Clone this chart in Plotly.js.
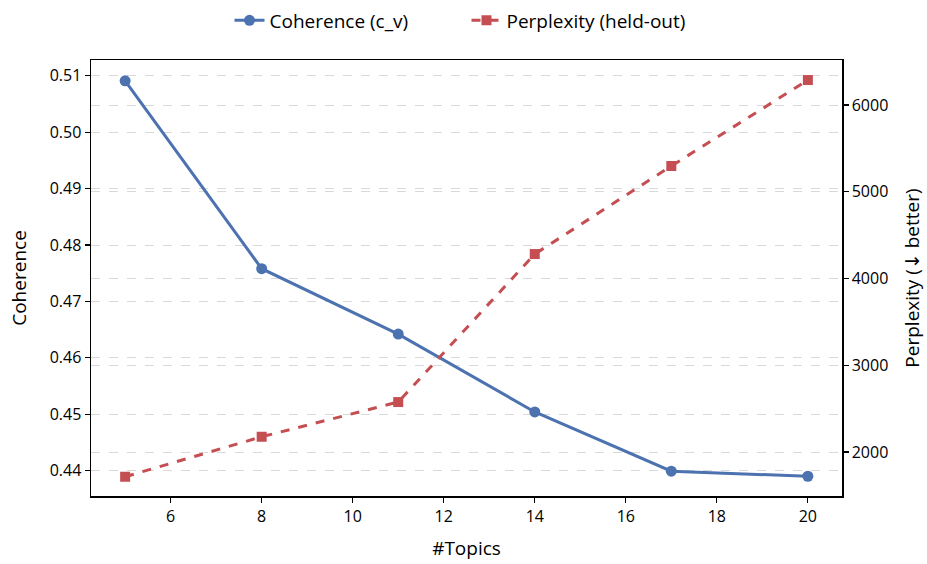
<!DOCTYPE html>
<html>
<head>
<meta charset="utf-8">
<script src="https://cdn.plot.ly/plotly-3.0.1.min.js"></script>
<style>html,body{margin:0;padding:0;background:#fff}#chart{width:927px;height:564px}</style>
</head>
<body>
<div id="chart"></div>
<script>
const topics = [5, 8, 11, 14, 17, 20];
const coherence = [0.5091, 0.4758, 0.4642, 0.4504, 0.4399, 0.4390];
const perplexity = [1715, 2176, 2576, 4282, 5297, 6288];

const FONT = "Open Sans, Noto Sans, DejaVu Sans, sans-serif";
const traces = [
  {x: topics, y: coherence, name: "Coherence (c_v)", type: "scatter", mode: "lines+markers",
   line: {color: "#4C72B0", width: 3}, marker: {symbol: "circle", size: 11, color: "#4C72B0"}, yaxis: "y"},
  {x: topics, y: perplexity, name: "Perplexity (held-out)", type: "scatter", mode: "lines+markers",
   line: {color: "#C44E52", width: 3, dash: "dash"}, marker: {symbol: "square", size: 10, color: "#C44E52"}, yaxis: "y2"}
];
const grid = {showgrid: true, gridcolor: "#d9d9d9", griddash: "dash", gridwidth: 1};
const layout = {
  width: 927, height: 564,
  margin: {l: 91, r: 85, t: 60, b: 68},
  paper_bgcolor: "#fff", plot_bgcolor: "#fff",
  font: {family: FONT, size: 16, color: "#000"},
  showlegend: true,
  legend: {orientation: "h", x: 0.5, xanchor: "center", y: 0.93, yanchor: "bottom", yref: "container",
           font: {size: 19}, entrywidth: 192, entrywidthmode: "pixels", traceorder: "normal"},
  xaxis: {range: [4.25, 20.75], dtick: 2, tick0: 0, showgrid: false, zeroline: false,
          showline: true, linecolor: "#000", linewidth: 1.5, mirror: true,
          ticks: "outside", ticklen: 5, tickwidth: 1.2, tickcolor: "#000",
          title: {text: "#Topics", font: {size: 19}, standoff: 16}},
  yaxis: Object.assign({range: [0.4355, 0.5128], dtick: 0.01, tick0: 0.44, tickformat: ".2f", zeroline: false,
          showline: true, linecolor: "#000", linewidth: 1.5,
          ticks: "outside", ticklen: 5, tickwidth: 1.2, tickcolor: "#000",
          title: {text: "Coherence", font: {size: 19}, standoff: 18}}, grid),
  yaxis2: Object.assign({overlaying: "y", side: "right", range: [1493, 6519], dtick: 1000, tick0: 0, zeroline: false,
          showline: true, linecolor: "#000", linewidth: 1.5,
          ticks: "outside", ticklen: 5, tickwidth: 1.2, tickcolor: "#000",
          title: {text: "Perplexity (↓ better)", font: {size: 19}, standoff: 18}}, grid)
};
Plotly.newPlot("chart", traces, layout, {displayModeBar: false, staticPlot: true});
</script>
</body>
</html>
